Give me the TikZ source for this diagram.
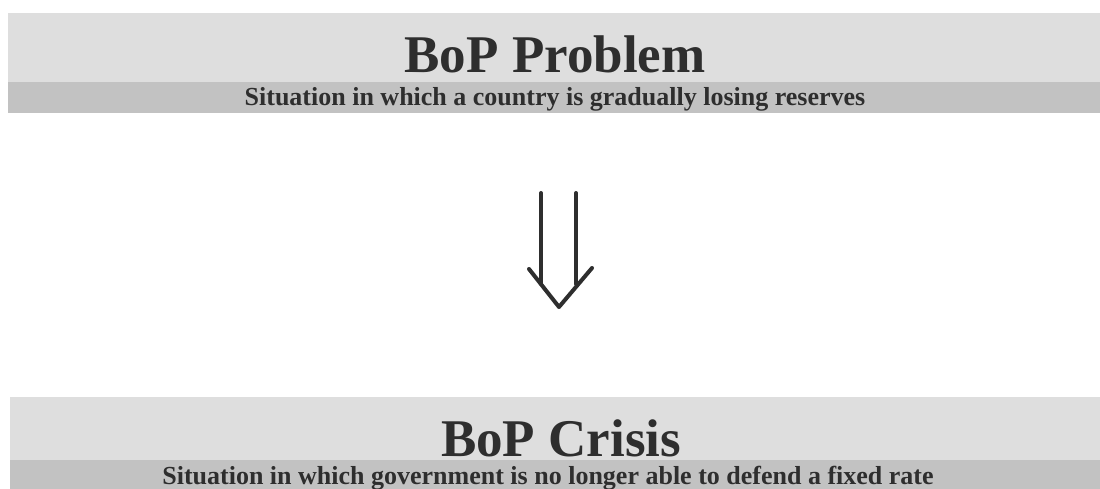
\documentclass[tikz,border=0pt]{standalone}
\usepackage{fontspec}
\setmainfont{Liberation Serif}
\definecolor{bandlight}{HTML}{DEDEDE}
\definecolor{banddark}{HTML}{C2C2C2}
\definecolor{ink}{HTML}{2E2E2E}
\begin{document}
\begin{tikzpicture}[x=1pt,y=-1pt,
  titletext/.style={anchor=base,inner sep=0pt,text=ink,font=\bfseries\fontsize{53}{60}\selectfont},
  subtext/.style={anchor=base,inner sep=0pt,text=ink,font=\bfseries\fontsize{26}{30}\selectfont},
  arrowline/.style={draw=ink,line width=4pt,line cap=round,line join=round}]
\useasboundingbox (0,0) rectangle (1100,489);
\fill[white] (0,0) rectangle (1100,489);
% top bands
\fill[bandlight] (8,13) rectangle (1100,82);
\fill[banddark] (8,82) rectangle (1100,113);
% bottom bands
\fill[bandlight] (10,397) rectangle (1100,460);
\fill[banddark] (10,460) rectangle (1100,489);
% texts
\node[titletext] (t1) at (555,73) {BoP Problem};
\node[subtext] (s1) at (555,106) {Situation in which a country is gradually losing reserves};
\node[titletext] (t2) at (561,456) {BoP Crisis};
\node[subtext] (s2) at (548,484) {Situation in which government is no longer able to defend a fixed rate};
% arrow
\coordinate (atop) at (558.5,193);
\coordinate (atip) at (559,307);
\draw[arrowline] ([xshift=-17.5pt]atop) -- ([xshift=-17.5pt]atop |- 0,284);
\draw[arrowline] ([xshift=17.5pt]atop) -- ([xshift=17.5pt]atop |- 0,284);
\draw[arrowline] ([xshift=-30pt,yshift=38pt]atip) -- (atip) -- ([xshift=33pt,yshift=39pt]atip);
\end{tikzpicture}
\end{document}
